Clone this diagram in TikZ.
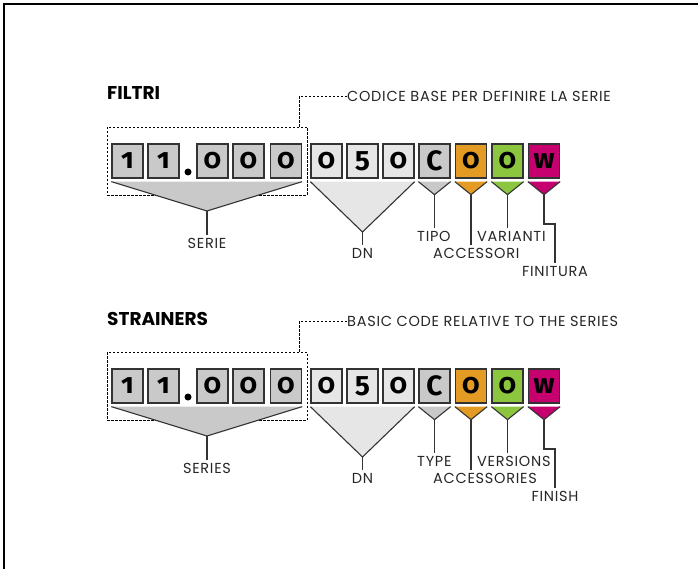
\documentclass[tikz,border=0pt]{standalone}
\usepackage{fontspec}
\setmainfont{Poppins}
\newfontfamily\digitfont[Numbers=OldStyle]{Fira Sans}
\newfontfamily\labelfont[LetterSpace=5]{Poppins}
\definecolor{cgray}{HTML}{C9C9C9}
\definecolor{clight}{HTML}{E6E6E6}
\definecolor{corange}{HTML}{E39B24}
\definecolor{cgreen}{HTML}{8CC63E}
\definecolor{cmag}{HTML}{C6006F}
\definecolor{cline}{HTML}{333333}
\tikzset{
  cbox/.style={draw=cline, line width=1.3pt, minimum width=31pt, minimum height=34pt, inner sep=0pt,
    font=\digitfont\bfseries\fontsize{28}{30}\selectfont, text=black},
  lab/.style={inner sep=0pt, font=\labelfont\fontsize{14.5}{17}\selectfont, text=black!85},
  head/.style={inner sep=0pt, font=\bfseries\fontsize{18.5}{21}\selectfont},
  dashbox/.style={draw=black, line width=0.8pt, dash pattern=on 2.5pt off 1.5pt, minimum width=200pt, minimum height=68pt, inner sep=0pt},
  dashline/.style={draw=black, line width=0.8pt, dash pattern=on 2.5pt off 1.5pt},
  tri/.style={draw=cline, line width=1.1pt, line join=miter},
  leader/.style={draw=cline, line width=1.1pt, shorten >=3pt},
  dotc/.style={circle, fill=black, inner sep=0pt, minimum size=7pt},
}
% #1 node, #2 colour, #3 apex name
\newcommand\SmallTri[3]{%
  \coordinate (#3) at ([yshift=-16pt]#1.south);
  \fill[#2] ([yshift=-3pt]#1.south west) -- (#3) -- ([yshift=-3pt]#1.south east) -- cycle;
  \draw[tri] ([yshift=-3pt]#1.south west) -- (#3) -- ([yshift=-3pt]#1.south east);
}
% #1 prefix, #2 shift, #3 heading, #4 note, #5 series, #6 type, #7 accessories, #8 versions, #9 finish
\newcommand\CodeSection[9]{%
\begin{scope}[yshift=#2]
  \node[head, anchor=base west] (#1head) at (107,100) {#3};
  \node[dashbox] (#1frame) at (207,161) {};
  \node[lab, anchor=west] (#1note) at (347,96) {#4};
  \draw[dashline] ([xshift=-8pt]#1frame.north east) |- (#1note.west);
  \node[cbox, fill=cgray] (#1b1) at (127.5,161) {1};
  \node[cbox, fill=cgray] (#1b2) at (163.5,161) {1};
  \node[dotc] (#1dot) at (188,172) {};
  \node[cbox, fill=cgray] (#1b3) at (212.5,161) {0};
  \node[cbox, fill=cgray] (#1b4) at (248.5,161) {0};
  \node[cbox, fill=cgray] (#1b5) at (286,161) {0};
  \node[cbox, fill=clight] (#1b6) at (326.5,161) {0};
  \node[cbox, fill=clight] (#1b7) at (362.5,161) {5};
  \node[cbox, fill=clight] (#1b8) at (398.5,161) {0};
  \node[cbox, fill=cgray] (#1b9) at (434.5,161) {C};
  \node[cbox, fill=corange] (#1b10) at (471,161) {0};
  \node[cbox, fill=cgreen] (#1b11) at (507.5,161) {0};
  \node[cbox, fill=cmag] (#1b12) at (544,161) {w};
  % series triangle
  \coordinate (#1sa) at (207,211);
  \fill[cgray] ([yshift=-3pt]#1b1.south west) -- (#1sa) -- ([yshift=-3pt]#1b5.south east) -- cycle;
  \draw[tri] ([yshift=-3pt]#1b1.south west) -- (#1sa) -- ([yshift=-3pt]#1b5.south east);
  % DN triangle
  \coordinate (#1da) at (362.5,232);
  \fill[clight] ([yshift=-3pt]#1b6.south west) -- (#1da) -- ([yshift=-3pt]#1b8.south east) -- cycle;
  \draw[tri] ([yshift=-3pt]#1b6.south west) -- (#1da) -- ([yshift=-3pt]#1b8.south east);
  \SmallTri{#1b9}{cgray}{#1ta}
  \SmallTri{#1b10}{corange}{#1aa}
  \SmallTri{#1b11}{cgreen}{#1va}
  \SmallTri{#1b12}{cmag}{#1fa}
  % labels
  \node[lab, anchor=north] (#1ser) at (207,238) {#5};
  \node[lab, anchor=north] (#1dn) at (362.5,248) {DN};
  \node[lab, anchor=north west] (#1typ) at (417,231) {#6};
  \node[lab, anchor=north west] (#1acc) at (433,248) {#7};
  \node[lab, anchor=north west] (#1ver) at (477,231) {#8};
  \node[lab, anchor=north] (#1fin) at (555,266) {#9};
  \coordinate (#1bend) at (555,224);
  \draw[leader] (#1sa) -- (#1sa |- #1ser.north);
  \draw[leader] (#1da) -- (#1da |- #1dn.north);
  \draw[leader] (#1ta) -- (#1ta |- #1typ.north);
  \draw[leader] (#1aa) -- (#1aa |- #1acc.north);
  \draw[leader] (#1va) -- (#1va |- #1ver.north);
  \draw[leader] (#1fa) |- (#1bend) -- (#1fin.north);
\end{scope}}
\begin{document}
\begin{tikzpicture}[x=1pt,y=-1pt]
  \useasboundingbox (0,0) rectangle (698,569);
  \coordinate (pbl) at (4,569);
  \coordinate (ptl) at (4,4);
  \coordinate (ptr) at (698,4);
  \draw[line width=1.6pt, line cap=rect] (pbl) -- (ptl) -- (ptr);
  \CodeSection{f}{0pt}{FILTRI}{CODICE BASE PER DEFINIRE LA SERIE}{SERIE}{TIPO}{ACCESSORI}{VARIANTI}{FINITURA}
  \CodeSection{s}{-225pt}{STRAINERS}{BASIC CODE RELATIVE TO THE SERIES}{SERIES}{TYPE}{ACCESSORIES}{VERSIONS}{FINISH}
\end{tikzpicture}
\end{document}
